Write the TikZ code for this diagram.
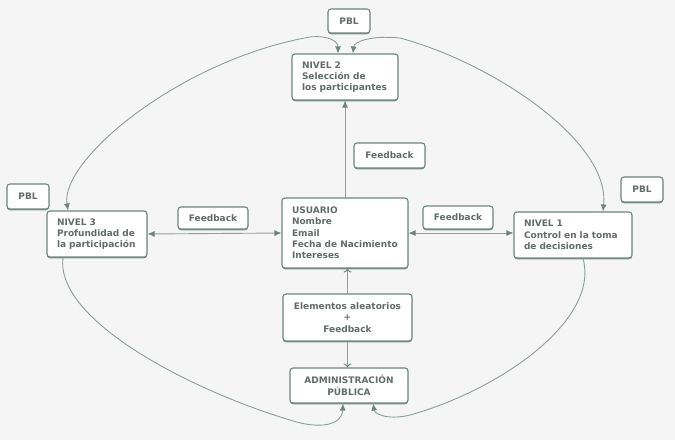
\documentclass[tikz,border=0pt]{standalone}
\usepackage{fontspec}
\setmainfont{DejaVu Sans}
\usetikzlibrary{arrows.meta,shadows}
\definecolor{bgc}{HTML}{F4F5F4}
\definecolor{boxc}{HTML}{6E857C}
\definecolor{txtc}{HTML}{636C68}
\definecolor{linec}{HTML}{8E9F98}
\begin{document}
\begin{tikzpicture}[x=1pt,y=-1pt,
  font=\fontsize{9}{11.3}\selectfont\bfseries,
  every node/.style={text=txtc},
  bx/.style={draw=boxc, line width=1.1pt, rounded corners=3pt, fill=white,
    drop shadow={shadow xshift=0pt, shadow yshift=-1.3pt, fill=boxc, opacity=0.9},
    inner xsep=10pt, inner ysep=2pt},
  lbox/.style={bx, align=left},
  cbox/.style={bx, align=center, inner xsep=2pt},
  conn/.style={draw=linec, line width=0.9pt},
  fa/.style={conn, -{Latex[length=7pt,width=6pt,fill=boxc,color=boxc]}},
  fab/.style={conn, {Latex[length=7pt,width=6pt,fill=boxc,color=boxc]}-{Latex[length=7pt,width=6pt,fill=boxc,color=boxc]}},
  oa/.style={conn, -{To[length=4pt,width=8pt,color=boxc]}},
]
\fill[bgc] (0,0) rectangle (675,440);
\useasboundingbox (0,0) rectangle (675,440);

\node[cbox, minimum width=42pt, minimum height=24pt] (pbl2) at (349,21) {PBL};
\node[cbox, minimum width=42pt, minimum height=25pt] (pblL) at (28,196.5) {PBL};
\node[cbox, minimum width=42pt, minimum height=25pt] (pblR) at (642,189.5) {PBL};

\node[lbox, text width=86pt, minimum height=46pt] (n2) at (345,77) {NIVEL 2\\Selección de\\los participantes};
\node[lbox, text width=80pt, minimum height=46pt] (n3) at (97,234) {NIVEL 3\\Profundidad de\\la participación};
\node[lbox, text width=98pt, minimum height=46pt] (n1) at (573,235) {NIVEL 1\\Control en la toma\\de decisiones};
\node[lbox, text width=106pt, minimum height=70pt] (usr) at (345,233) {USUARIO\\Nombre\\Email\\Fecha de Nacimiento\\Intereses};

\node[cbox, minimum width=129pt, minimum height=47pt] (elem) at (347.5,317.5) {Elementos aleatorios\\+\\Feedback};
\node[cbox, minimum width=118pt, minimum height=35pt] (adm) at (349,385.5) {ADMINISTRACIÓN\\PÚBLICA};

\draw[fab] (n3.east) -- (usr.west);
\draw[fab] (usr.east) -- (usr.east -| n1.west);
\draw[fa] (usr.north) -- (n2.south);
\draw[oa] (elem.north) -- (elem.north |- usr.south);
\draw[oa] (elem.south) -- (elem.south |- adm.north);

\node[cbox, minimum width=70pt, minimum height=22pt] (fbL) at (213,218) {Feedback};
\node[cbox, minimum width=70pt, minimum height=23pt] (fbR) at (458,217.5) {Feedback};
\node[cbox, minimum width=71pt, minimum height=25pt] (fbM) at (389.5,155.5) {Feedback};

% top curves
\coordinate (tl) at (310,37);
\coordinate (tr) at (400,38);
\draw[fab] (n3.north -| 68,0) .. controls (60,160) and (180,60) .. (tl)
   .. controls (330,35) and (338,42) .. (n2.north -| 338,0);
\draw[fab] (n2.north -| 353,0) .. controls (354,42) and (370,35) .. (tr)
   .. controls (490,62) and (610,140) .. (n1.north -| 603,0);

% bottom curves
\coordinate (bl) at (290,420);
\coordinate (br) at (410,415);
\draw[fa] (n3.south -| 63,0) .. controls (55,320) and (190,390) .. (bl)
   .. controls (320,430) and (342,425) .. (adm.south -| 343,0);
\draw[fa] (n1.south -| 583,0) .. controls (600,320) and (500,390) .. (br)
   .. controls (390,420) and (375,415) .. (adm.south -| 373,0);
\end{tikzpicture}
\end{document}
